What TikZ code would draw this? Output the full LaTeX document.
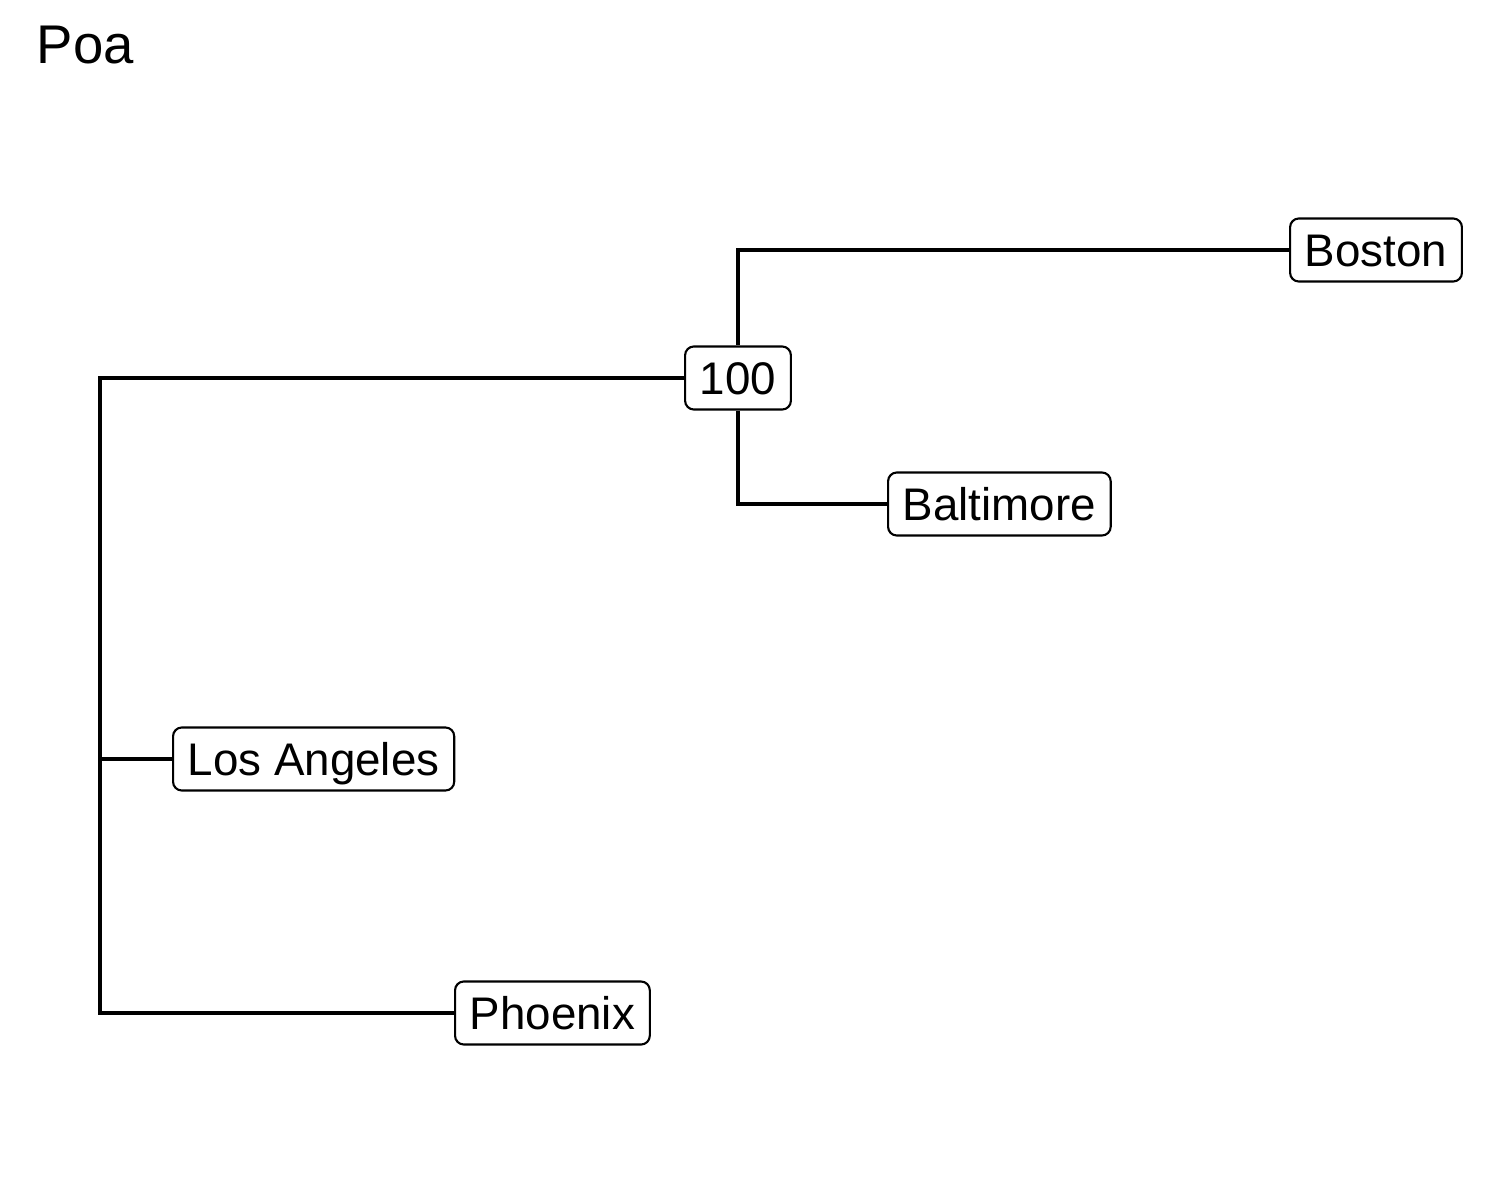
\documentclass[tikz,border=0pt]{standalone}
\usepackage{fontspec}
\setmainfont{Liberation Sans}
\usetikzlibrary{positioning}

\begin{document}
\begin{tikzpicture}[x=0.01cm, y=-0.01cm,
    every node/.style={font=\fontsize{13}{15}\selectfont},
    tiplabel/.style={draw, fill=white, line width=0.6pt, rounded corners=2.5pt,
        text height=10.6pt, text depth=1.2pt,
        minimum height=0.63cm, inner xsep=4.2pt, inner ysep=2pt},
    branch/.style={line width=1.1pt}]
    \useasboundingbox (0,0) rectangle (1500,1200);

    % title
    \node[anchor=base west, inner sep=0pt, font=\fontsize{15.5}{18}\selectfont] (title) at (36,63) {Poa};

    % internal node and tips
    \node[tiplabel] (n100) at (738,378) {100};
    \node[tiplabel, anchor=west] (boston) at (1289,250) {Boston};
    \node[tiplabel, anchor=west] (baltimore) at (887,504) {Baltimore};
    \node[tiplabel, anchor=west] (la) at (172,759) {Los Angeles};
    \node[tiplabel, anchor=west] (phoenix) at (454,1013) {Phoenix};

    % root
    \coordinate (root) at (100,378);

    % branches
    \draw[branch] (n100.west) -- (root) |- (phoenix.west);
    \draw[branch] (root |- la.west) -- (la.west);
    \draw[branch] (boston.west) -| (n100.north);
    \draw[branch] (n100.south) |- (baltimore.west);
\end{tikzpicture}
\end{document}
